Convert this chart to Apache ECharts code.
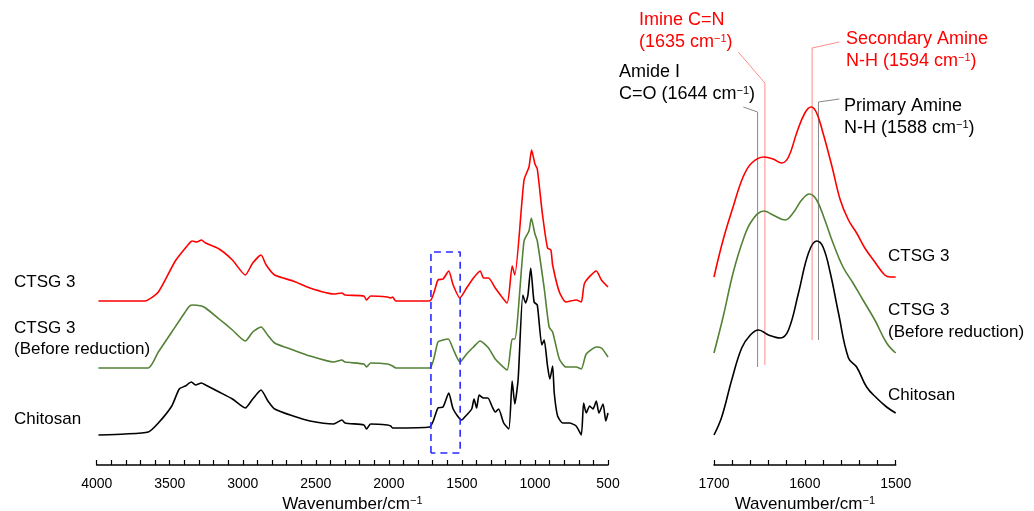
<!DOCTYPE html>
<html><head><meta charset="utf-8">
<script src="https://cdn.jsdelivr.net/npm/echarts@6/dist/echarts.min.js"></script>
<style>html,body{margin:0;padding:0;background:#fff}#c{width:1034px;height:511px}</style>
</head><body><div id="c"></div><script>
// Full-range FTIR spectra [wavenumber cm-1, offset intensity a.u.]
const redFull = [[3988,1.64],[3670,1.64],[3578,1.73],[3462,2.04],[3370,2.21],[3347,2.24],[3315,2.23],[3283,2.25],[3255,2.22],[3162,2.16],[3071,2.05],[2983,1.90],[2932,2.02],[2875,2.10],[2840,2.00],[2782,1.90],[2655,1.84],[2540,1.77],[2379,1.71],[2321,1.72],[2300,1.70],[2171,1.69],[2153,1.65],[2125,1.69],[2010,1.68],[1987,1.67],[1975,1.68],[1952,1.64],[1721,1.64],[1664,1.85],[1629,1.86],[1590,1.94],[1560,1.80],[1514,1.67],[1468,1.77],[1421,1.87],[1375,1.94],[1352,1.87],[1318,1.87],[1272,1.77],[1191,1.62],[1156,1.99],[1138,1.90],[1075,2.85],[1041,2.98],[1023,3.15],[1000,3.01],[984,2.96],[949,2.51],[914,2.17],[891,2.15],[879,2.00],[833,1.73],[788,1.63],[718,1.65],[683,1.63],[660,1.82],[580,1.94],[545,1.85],[500,1.78]];
const greenFull = [[3988,0.97],[3647,0.97],[3578,1.13],[3486,1.33],[3370,1.58],[3347,1.60],[3283,1.59],[3255,1.57],[3162,1.46],[3071,1.35],[2983,1.24],[2932,1.33],[2875,1.38],[2830,1.30],[2782,1.22],[2655,1.15],[2540,1.09],[2379,1.03],[2321,1.05],[2300,1.03],[2171,1.01],[2153,0.98],[2125,1.02],[2010,1.01],[1975,0.99],[1952,0.97],[1721,0.97],[1664,1.23],[1629,1.25],[1593,1.26],[1560,1.16],[1514,1.03],[1468,1.11],[1421,1.18],[1375,1.24],[1318,1.17],[1272,1.06],[1191,0.95],[1156,1.26],[1138,1.26],[1075,2.24],[1041,2.34],[1025,2.47],[1000,2.31],[984,2.24],[937,1.77],[903,1.38],[879,1.33],[833,1.06],[788,0.98],[718,0.98],[683,0.96],[649,1.11],[580,1.18],[545,1.17],[500,1.08]];
const blackFull = [[3988,0.30],[3808,0.31],[3647,0.33],[3578,0.42],[3486,0.59],[3435,0.76],[3393,0.79],[3352,0.83],[3324,0.80],[3283,0.82],[3255,0.80],[3162,0.73],[3071,0.66],[2983,0.57],[2932,0.66],[2875,0.75],[2828,0.64],[2782,0.56],[2655,0.49],[2540,0.44],[2379,0.41],[2321,0.45],[2300,0.42],[2171,0.40],[2153,0.36],[2125,0.41],[2010,0.40],[1987,0.39],[1975,0.37],[1721,0.38],[1664,0.57],[1629,0.58],[1590,0.72],[1560,0.56],[1502,0.45],[1468,0.50],[1433,0.56],[1417,0.66],[1399,0.57],[1382,0.70],[1352,0.67],[1322,0.67],[1295,0.59],[1272,0.53],[1249,0.56],[1214,0.42],[1179,0.36],[1156,0.84],[1138,0.61],[1115,0.86],[1083,1.70],[1064,1.62],[1048,1.70],[1029,1.97],[1006,1.63],[984,1.60],[953,1.20],[937,1.25],[914,0.99],[898,0.86],[879,0.99],[868,0.72],[845,0.49],[810,0.42],[764,0.42],[718,0.39],[683,0.30],[667,0.62],[649,0.52],[626,0.59],[603,0.56],[580,0.64],[562,0.52],[534,0.61],[515,0.44],[500,0.52]];
// Zoomed region 1700-1500 cm-1
const redZoom = [[1700,1.88],[1690,2.25],[1679,2.58],[1668,2.88],[1658.5,3.02],[1645,3.08],[1635,3.06],[1625.5,3.02],[1618,3.08],[1609,3.32],[1600,3.52],[1593,3.58],[1587,3.52],[1580,3.32],[1570,2.98],[1561,2.65],[1552,2.45],[1543,2.32],[1534,2.17],[1523,2.03],[1512,1.90],[1506,1.88],[1500,1.88]];
const greenZoom = [[1700,1.12],[1690,1.48],[1679,1.92],[1668,2.25],[1658.5,2.44],[1645,2.54],[1635,2.50],[1622,2.45],[1613,2.52],[1603.5,2.65],[1595,2.71],[1587,2.65],[1578,2.45],[1569,2.22],[1558,1.98],[1547,1.82],[1536,1.65],[1523,1.45],[1510,1.22],[1500,1.12]];
const blackZoom = [[1700,0.30],[1691.5,0.48],[1680.5,0.85],[1669.5,1.17],[1660,1.30],[1651,1.35],[1640,1.30],[1627,1.27],[1618,1.35],[1607,1.72],[1596,2.12],[1587,2.24],[1580,2.18],[1572,1.92],[1563,1.52],[1552,1.07],[1543,0.98],[1532,0.78],[1521,0.67],[1510,0.58],[1500,0.52]];
// Highlighted region (dashed box) and annotation leader lines
const boxRegion = [[1712,0.12],[1712,2.13],[1512,2.13],[1512,0.12],[1712,0.12]];
const amideLine = [[1667.7,3.58],[1652,3.53],[1652,0.98]];
const imineLine = [[1673.3,4.13],[1644,3.82],[1644,1.00]];
const secAmineLine = [[1562,4.23],[1592,4.17],[1592,1.25]];
const primAmineLine = [[1562,3.66],[1585,3.63],[1585,1.25]];
const seriesNames = ['CTSG 3','CTSG 3 (Before reduction)','Chitosan'];

const FONT = 'Arial, "Liberation Sans", sans-serif';
const chart = echarts.init(document.getElementById('c'), null, {renderer:'canvas'});

function lineSeries(name, data, color, xi, smooth, width, extra){
  return Object.assign({name, type:'line', data, xAxisIndex:xi, yAxisIndex:xi, symbol:'none', smooth,
    silent:true, animation:false, lineStyle:{color, width}}, extra||{});
}
function txt(x, y, parts, color, size){
  size = size || 17;
  return {type:'text', x, y, silent:true, style:{text:parts, fill:color, font:size+'px '+FONT, verticalAlign:'middle',
    rich:{s:{fontSize:11, fontFamily:FONT, fill:color, verticalAlign:'top'}}}};
}
const xCommon = {
  type:'value', inverse:true,
  axisLine:{show:true, onZero:false, lineStyle:{color:'#000', width:1.5}},
  axisTick:{show:true, inside:true, length:5, lineStyle:{color:'#000', width:1.2}},
  splitLine:{show:false},
  axisLabel:{color:'#000', fontSize:14, fontFamily:FONT, margin:12},
  nameLocation:'middle', nameGap:28,
  nameTextStyle:{color:'#000', fontSize:17, fontFamily:FONT, rich:{s:{fontSize:11, fontFamily:FONT, color:'#000', verticalAlign:'top'}}}
};
const option = {
  animation:false,
  backgroundColor:'#fff',
  grid:[
    {left:96.7, right:426, top:0, bottom:46, outerBoundsMode:'none', containLabel:false},
    {left:714, right:138.3, top:0, bottom:46, outerBoundsMode:'none', containLabel:false}
  ],
  xAxis:[
    Object.assign({}, xCommon, {gridIndex:0, min:500, max:4000, interval:100, name:'Wavenumber/cm{s|−1}',
      axisLabel:Object.assign({}, xCommon.axisLabel, {formatter:v => v % 500 === 0 ? String(v) : ''})}),
    Object.assign({}, xCommon, {gridIndex:1, min:1500, max:1700, interval:20, name:'Wavenumber/cm{s|−1}',
      axisLabel:Object.assign({}, xCommon.axisLabel, {formatter:v => v % 100 === 0 ? String(v) : ''})})
  ],
  yAxis:[
    {gridIndex:0, type:'value', min:0, max:4.65, show:false},
    {gridIndex:1, type:'value', min:0, max:4.65, show:false}
  ],
  series:[
    lineSeries(seriesNames[0], redFull, '#ff0000', 0, 0.2, 1.6),
    lineSeries(seriesNames[1], greenFull, '#538135', 0, 0.2, 1.6),
    lineSeries(seriesNames[2], blackFull, '#000000', 0, 0.2, 1.6),
    lineSeries('box', boxRegion, '#2a2aff', 0, false, 1.6, {lineStyle:{color:'#2a2aff', width:1.6, type:[7,5]}}),
    lineSeries('amide', amideLine, '#888888', 1, false, 1),
    lineSeries('imine', imineLine, '#ff8c8c', 1, false, 1),
    lineSeries('secAmine', secAmineLine, '#ff8c8c', 1, false, 1),
    lineSeries('primAmine', primAmineLine, '#888888', 1, false, 1),
    lineSeries(seriesNames[0]+' zoom', redZoom, '#ff0000', 1, 0.4, 1.6),
    lineSeries(seriesNames[1]+' zoom', greenZoom, '#538135', 1, 0.4, 1.6),
    lineSeries(seriesNames[2]+' zoom', blackZoom, '#000000', 1, 0.4, 1.6)
  ],
  graphic:[
    txt(14, 282, 'CTSG 3', '#000'),
    txt(14, 328, 'CTSG 3', '#000'),
    txt(14, 349, '(Before reduction)', '#000'),
    txt(14, 419, 'Chitosan', '#000'),
    txt(888, 256, 'CTSG 3', '#000'),
    txt(888, 310, 'CTSG 3', '#000'),
    txt(888, 332, '(Before reduction)', '#000'),
    txt(888, 395, 'Chitosan', '#000'),
    txt(639, 20, 'Imine C=N', '#ff0000', 18),
    txt(639, 42, '(1635 cm{s|−1})', '#ff0000', 18),
    txt(619, 72, 'Amide I', '#000', 18),
    txt(619, 94, 'C=O (1644 cm{s|−1})', '#000', 18),
    txt(846, 39, 'Secondary Amine', '#ff0000', 18),
    txt(846, 61, 'N-H (1594 cm{s|−1})', '#ff0000', 18),
    txt(844, 106, 'Primary Amine', '#000', 18),
    txt(844, 128, 'N-H (1588 cm{s|−1})', '#000', 18)
  ]
};
chart.setOption(option);
</script></body></html>
